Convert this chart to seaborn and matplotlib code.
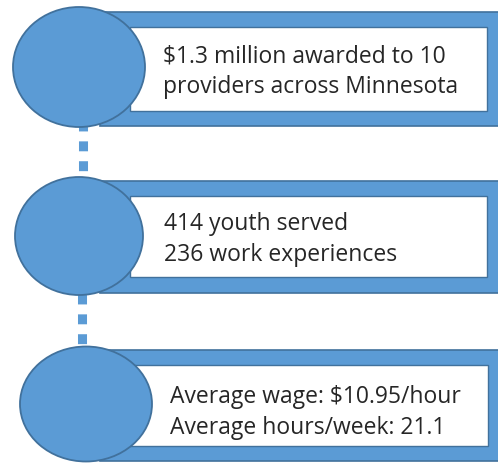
import matplotlib
matplotlib.use("Agg")
import matplotlib.pyplot as plt
from matplotlib.patches import Ellipse, Rectangle
import seaborn as sns

# text content of the three stages
line1 = ["$1.3 million awarded to 10", "414 youth served", "Average wage: $10.95/hour"]
line2 = ["providers across Minnesota", "236 work experiences", "Average hours/week: 21.1"]

BLUE = "#5B9BD5"
EDGE = "#41719C"
TEXT = "#262626"

sns.set_style("white")
plt.rcParams["font.family"] = ["Open Sans", "DejaVu Sans"]

# layout (pixels, y down)
circles = [(79, 68, 132, 120), (79, 237, 128, 118), (86, 405, 132, 115)]
outer = [(100, 13, 420, 114), (100, 182, 420, 112), (100, 351, 420, 111)]
inner = [(130, 28, 357, 84), (130, 197, 357, 81), (130, 366, 358, 81)]
text_x = [163, 164, 170]
text_base = [(63, 93), (230, 261), (403, 434)]
conn = [(83, 122, 180), (81.5, 295, 350)]

fig = plt.figure(figsize=(4.98, 4.64), dpi=100)
ax = fig.add_axes([0, 0, 1, 1])
ax.set_xlim(0, 498)
ax.set_ylim(464, 0)
ax.axis("off")

for x, y0, y1 in conn:
    ax.plot([x, x], [y0, y1], color=BLUE, linewidth=6.5,
            linestyle=(0, (1.1, 1.1)), dash_capstyle="butt", zorder=1)

for (ox, oy, ow, oh), (ix, iy, iw, ih) in zip(outer, inner):
    ax.add_patch(Rectangle((ox, oy), ow, oh, facecolor=BLUE, edgecolor=EDGE,
                           linewidth=1.2, zorder=2))
    ax.add_patch(Rectangle((ix, iy), iw, ih, facecolor="white", edgecolor=EDGE,
                           linewidth=1.0, zorder=3))

for cx, cy, w, h in circles:
    ax.add_patch(Ellipse((cx, cy), w, h, facecolor=BLUE, edgecolor=EDGE,
                         linewidth=1.3, zorder=4))

for tx, (y1, y2), a, b in zip(text_x, text_base, line1, line2):
    ax.text(tx, y1, a, fontsize=16.5, color=TEXT, va="baseline", ha="left", zorder=5)
    ax.text(tx, y2, b, fontsize=16.5, color=TEXT, va="baseline", ha="left", zorder=5)

fig.savefig("out.png", dpi=100)
